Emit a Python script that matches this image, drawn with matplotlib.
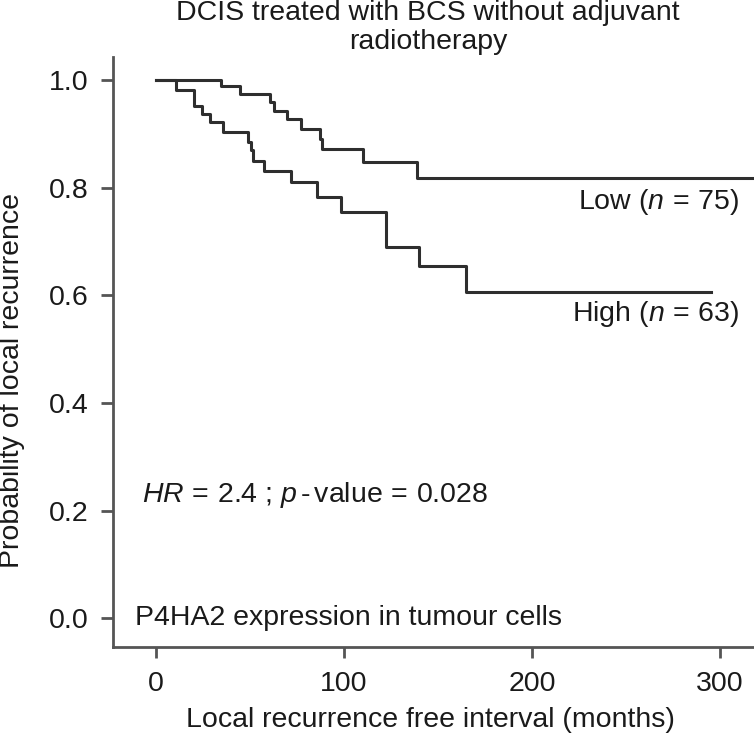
import numpy as np
import matplotlib
matplotlib.use('Agg')
from matplotlib import pyplot as plt

# 字体: Arial 度量的 Liberation Sans
plt.rcParams['font.family'] = ['Liberation Sans', 'DejaVu Sans']
plt.rcParams['mathtext.fontset'] = 'custom'
plt.rcParams['mathtext.rm'] = 'Liberation Sans'
plt.rcParams['mathtext.it'] = 'Liberation Sans:italic'

# Kaplan-Meier 阶梯数据 (月份, 跳变后的生存概率)
low_months = [0, 34.6, 45, 61, 63, 70, 77, 87.5, 88.5, 110, 139, 330]
low_surv = [1.0, 0.989, 0.974, 0.958, 0.943, 0.927, 0.909, 0.89, 0.872, 0.847, 0.817, 0.817]

high_months = [0, 10.6, 20.4, 24.8, 29, 36, 49, 50.5, 52, 57.5, 72, 86, 98.4, 122.3, 140, 165, 295]
high_surv = [1.0, 0.981, 0.952, 0.937, 0.921, 0.904, 0.885, 0.870, 0.850, 0.831, 0.810, 0.783,
             0.755, 0.689, 0.654, 0.606, 0.606]

x_ticks = [0, 100, 200, 300]
y_ticks = [0.0, 0.2, 0.4, 0.6, 0.8, 1.0]

W, H = 754, 742
fig = plt.figure(figsize=(W / 100, H / 100), dpi=100)
ax = fig.add_axes([113.3 / W, 1 - 647.3 / H, 1 - 113.3 / W + 0.01, (647.3 - 56.7) / H])

line_c = '#2e2e2e'
ax.step(low_months, low_surv, where='post', color=line_c, lw=2.2)
ax.step(high_months, high_surv, where='post', color=line_c, lw=2.2)

ax.set_xlim(-22.5, 322)
ax.set_ylim(-0.054, 1.043)
ax.set_xticks(x_ticks)
ax.set_yticks(y_ticks)
ax.set_yticklabels(['%.1f' % v for v in y_ticks])

spine_c = '#555555'
for s in ['top', 'right']:
    ax.spines[s].set_visible(False)
for s in ['left', 'bottom']:
    ax.spines[s].set_color(spine_c)
    ax.spines[s].set_linewidth(2.0)
ax.tick_params(axis='x', length=8, width=2, color=spine_c, pad=9, labelsize=20.5, labelcolor='#1a1a1a')
ax.tick_params(axis='y', length=9, width=2, color=spine_c, pad=9, labelsize=20.5, labelcolor='#1a1a1a')

fs = 20.5
tc = '#1a1a1a'
ax.text(310, 0.774, r'Low ($n\,{=}\,$75)', ha='right', va='center', fontsize=fs, color=tc)
ax.text(310, 0.566, r'High ($n\,{=}\,$63)', ha='right', va='center', fontsize=fs, color=tc)
ax.text(-7.5, 0.229, r'$HR\,{=}\,$2.4 ; $p\,$-$\,$value$\,{=}\,$0.028', ha='left', va='center',
        fontsize=fs, color=tc)
ax.text(-11, 0.0, 'P4HA2 expression in tumour cells', ha='left', va='center', fontsize=fs, color=tc)

fig.text(428 / W, 1 - 13 / H, 'DCIS treated with BCS without adjuvant', ha='center', va='center',
         fontsize=fs, color=tc)
fig.text(428 / W, 1 - 42 / H, 'radiotherapy', ha='center', va='center', fontsize=fs, color=tc)
fig.text(430 / W, 1 - 720 / H, 'Local recurrence free interval (months)', ha='center', va='center',
         fontsize=fs, color=tc)
fig.text(12.5 / W, 1 - 380 / H, 'Probability of local recurrence', ha='center', va='center', rotation=90,
         fontsize=fs, color=tc)

fig.savefig('out.png', dpi=100)
